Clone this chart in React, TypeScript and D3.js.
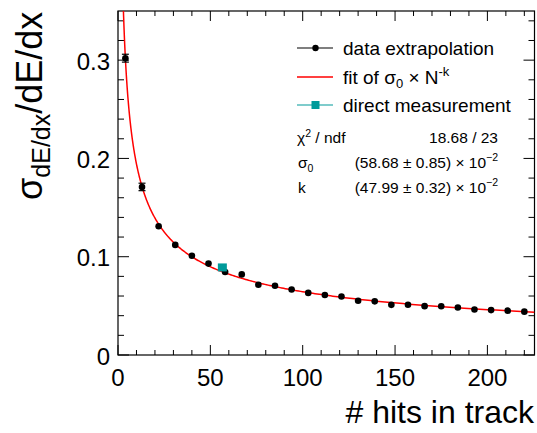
import React from 'react';
import * as d3 from 'd3';

// data extrapolation points
const hits = [4, 13, 22, 31, 40, 49, 58, 67, 76, 85, 94, 103, 112, 121, 130, 139, 148, 157, 166, 175, 184, 193, 202, 211, 220];
const sigma = [0.302, 0.171, 0.131, 0.112, 0.101, 0.093, 0.0845, 0.082, 0.0714, 0.0704, 0.0666, 0.0632, 0.061, 0.0595, 0.0552, 0.0546, 0.051, 0.0512, 0.0497, 0.0496, 0.0483, 0.0463, 0.0457, 0.0451, 0.0441];
const sigmaErr = [0.004, 0.0038, 0.0025, 0.002, 0.002, 0.0018, 0.0017, 0.0016, 0.0015, 0.0015, 0.0014, 0.0014, 0.0013, 0.0013, 0.0012, 0.0012, 0.0012, 0.0011, 0.0011, 0.0011, 0.0011, 0.001, 0.001, 0.001, 0.001];
// direct measurement
const directHits = [56.5];
const directSigma = [0.0891];
// fit parameters
const fitSigma0 = 0.5868;
const fitK = 0.4799;
// axes
const xTicks = [0, 50, 100, 150, 200];
const xTickLabels = ['0', '50', '100', '150', '200'];
const yTicks = [0, 0.1, 0.2, 0.3];
const yTickLabels = ['0', '0.1', '0.2', '0.3'];
const xMinorStep = 10;
const yMinorStep = 0.02;
const xDomain = [0, 225.5];
const yDomain = [0, 0.35];

const FONT = '"Liberation Sans", Arial, Helvetica, sans-serif';

export default function App() {
  const W = 537, H = 433;
  const L = 118, R = 534.5, T = 11, B = 355;
  const x = d3.scaleLinear().domain(xDomain).range([L, R]);
  const y = d3.scaleLinear().domain(yDomain).range([B, T]);

  const xMinor = d3.range(0, xDomain[1], xMinorStep);
  const yMinor = d3.range(0, yDomain[1], yMinorStep);

  const nStart = Math.pow(fitSigma0 / yDomain[1], 1 / fitK);
  const fitN = d3.range(0, 401).map(i => nStart * Math.pow(xDomain[1] / nStart, i / 400));
  const fitLine = d3.line<number>().x(n => x(n)).y(n => y(fitSigma0 * Math.pow(n, -fitK)))(fitN) || '';

  const r = 3.3;
  const isMajorX = (v: number) => xTicks.some(t => Math.abs(t - v) < 1e-6);
  const isMajorY = (v: number) => yTicks.some(t => Math.abs(t - v) < 1e-6);

  const legX1 = 297, legX2 = 333, legMid = 315.5, legText = 343;
  const rows = [48, 77, 105];
  const teal = '#009a9a';

  return (
    <svg width={W} height={H} style={{ position: 'absolute', left: 0, top: 0, background: '#fff' }} fontFamily={FONT}>
      <rect x={0} y={0} width={W} height={H} fill="#fff" />
      <defs>
        <clipPath id="frame"><rect x={L} y={T} width={R - L} height={B - T} /></clipPath>
      </defs>
      {/* ticks */}
      <g stroke="#000" strokeWidth={1}>
        {xMinor.map(v => {
          const len = isMajorX(v) ? 10 : 5;
          return (
            <g key={'xt' + v}>
              <line x1={x(v)} x2={x(v)} y1={B} y2={B - len} />
              <line x1={x(v)} x2={x(v)} y1={T} y2={T + len} />
            </g>
          );
        })}
        {yMinor.map(v => {
          const len = isMajorY(v) ? 11 : 6;
          return (
            <g key={'yt' + v}>
              <line x1={L} x2={L + len} y1={y(v)} y2={y(v)} />
              <line x1={R} x2={R - len} y1={y(v)} y2={y(v)} />
            </g>
          );
        })}
      </g>
      <rect x={L} y={T} width={R - L} height={B - T} fill="none" stroke="#000" strokeWidth={1.2} />
      {/* tick labels */}
      {xTicks.map((v, i) => (
        <text key={'xl' + v} x={x(v)} y={385.5} fontSize={24} textAnchor="middle" fill="#000">{xTickLabels[i]}</text>
      ))}
      {yTicks.map((v, i) => (
        <text key={'yl' + v} x={110} y={y(v) + 9.5} fontSize={24} textAnchor="end" fill="#000">{yTickLabels[i]}</text>
      ))}
      {/* axis titles */}
      <text x={534} y={423} fontSize={32} textAnchor="end" fill="#000"># hits in track</text>
      <text transform={`translate(42,11.7) rotate(-90)`} fontSize={36} textAnchor="end" fill="#000">
        σ<tspan fontSize={25} dy={8}>dE/dx</tspan><tspan fontSize={36} dy={-8}>/dE/dx</tspan>
      </text>
      {/* fit */}
      <g clipPath="url(#frame)">
        <path d={fitLine} fill="none" stroke="#ff0000" strokeWidth={1.5} />
      </g>
      {/* data points */}
      <g>
        {hits.map((h, i) => {
          const cx = x(h), cy = y(sigma[i]);
          const e1 = y(sigma[i] + sigmaErr[i]), e2 = y(sigma[i] - sigmaErr[i]);
          const showErr = (cy - e1) > r;
          return (
            <g key={'p' + i}>
              {showErr && (
                <g stroke="#000" strokeWidth={1.2}>
                  <line x1={cx} x2={cx} y1={e1} y2={e2} />
                  <line x1={cx - 3.5} x2={cx + 3.5} y1={e1} y2={e1} />
                  <line x1={cx - 3.5} x2={cx + 3.5} y1={e2} y2={e2} />
                </g>
              )}
              <circle cx={cx} cy={cy} r={r} fill="#000" />
            </g>
          );
        })}
        {directHits.map((h, i) => (
          <rect key={'d' + i} x={x(h) - 4.5} y={y(directSigma[i]) - 4} width={9} height={8} fill={teal} />
        ))}
      </g>
      {/* legend */}
      <g>
        <line x1={legX1} x2={legX2} y1={rows[0]} y2={rows[0]} stroke="#000" strokeWidth={1.2} />
        <circle cx={legMid} cy={rows[0]} r={3.2} fill="#000" />
        <text x={legText} y={rows[0] + 7} fontSize={19} fill="#000">data extrapolation</text>

        <line x1={legX1} x2={legX2} y1={rows[1]} y2={rows[1]} stroke="#ff0000" strokeWidth={1.5} />
        <text x={legText} y={rows[1] + 7} fontSize={19} fill="#000">
          fit of σ<tspan fontSize={13} dy={4}>0</tspan><tspan dy={-4}> × N</tspan><tspan fontSize={13} dy={-8}>-k</tspan>
        </text>

        <line x1={legX1} x2={legX2} y1={rows[2]} y2={rows[2]} stroke={teal} strokeWidth={1.2} />
        <rect x={legMid - 4} y={rows[2] - 4} width={8} height={8} fill={teal} />
        <text x={legText} y={rows[2] + 7} fontSize={19} fill="#000">direct measurement</text>
      </g>
      {/* fit statistics */}
      <g fontSize={15.5} fill="#000">
        <text x={297} y={143}>χ<tspan fontSize={10.5} dy={-6}>2</tspan><tspan dy={6}> / ndf</tspan></text>
        <text x={498} y={143} textAnchor="end">18.68 / 23</text>
        <text x={298} y={167.5}>σ<tspan fontSize={10.5} dy={4}>0</tspan></text>
        <text x={498} y={167.5} textAnchor="end">(58.68 ± 0.85) × 10<tspan fontSize={10.5} dy={-7}>−2</tspan></text>
        <text x={298} y={193}>k</text>
        <text x={498} y={193} textAnchor="end">(47.99 ± 0.32) × 10<tspan fontSize={10.5} dy={-7}>−2</tspan></text>
      </g>
    </svg>
  );
}
